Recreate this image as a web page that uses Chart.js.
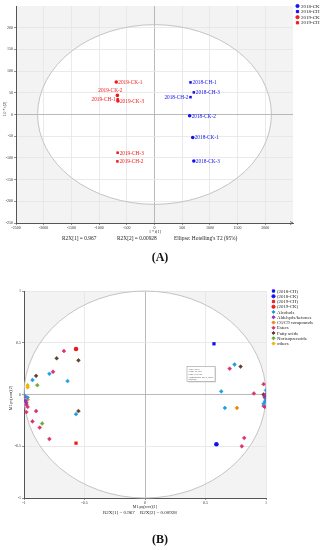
<!DOCTYPE html>
<html>
<head>
<meta charset="utf-8">
<script src="https://cdn.jsdelivr.net/npm/chart.js@4"></script>
<style>
  body { margin: 0; background: #fff; }
  canvas { position: absolute; left: 0; }
  #score-chart { top: 0; }
  #loading-chart { top: 280px; }
</style>
</head>
<body>
<canvas id="score-chart" width="323" height="280"></canvas>
<canvas id="loading-chart" width="323" height="270"></canvas>
<script>
const SERIF = "'Liberation Serif', 'DejaVu Serif', serif";

// (A) score plot
const scoreSeries = ['2018-CK', '2018-CH', '2019-CK', '2019-CH'];
const scoreNames = [
    ['2018-CK-1', '2018-CK-2', '2018-CK-3'],
    ['2018-CH-1', '2018-CH-2', '2018-CH-3'],
    ['2019-CK-1', '2019-CK-2', '2019-CK-3'],
    ['2019-CH-1', '2019-CH-2', '2019-CH-3']
];
const scoreT1 = [[690, 635, 710], [650, 650, 710], [-690, -670, -660], [-665, -670, -665]];
const scoreT2 = [[-53, -3, -107], [74, 40, 51], [75, 44, 31], [35, -108, -88]];
const scoreXTicks = [-2500, -2000, -1500, -1000, -500, 0, 500, 1000, 1500, 2000];
const scoreYTicks = [-250, -200, -150, -100, -50, 0, 50, 100, 150, 200];
const ellipseRadii = [2110, 207];

// (B) loading plot
const loadSeries = ['(2018-CH)', '(2018-CK)', '(2019-CH)', '(2019-CK)', 'Alcohols', 'Aldehyds/ketones',
    'C6/C9 compounds', 'Esters', 'Fatty acids', 'Norisoprenoids', 'others'];
const loadX = [
    [0.57],
    [0.59],
    [-0.57],
    [-0.57],
    [-0.79, -0.93, -0.64, -0.57, -0.97, -1.0, 0.74, 0.63, 0.66, 1.0, 1.0, 0.98, 0.99],
    [-0.98, -0.99, 0.99],
    [-0.97, 0.76],
    [-0.67, -0.76, -0.99, -0.98, -0.97, -0.98, -0.9, -0.93, -0.87, -0.79, 0.70, 0.98, 0.90, 1.0, 0.99, 0.99, 0.98, 0.82, 0.80, 1.0],
    [-0.73, -0.55, -0.9, -0.55, 0.79, 0.98],
    [-0.89, -0.85],
    [-0.97, -0.97]
];
const loadY = [
    [0.49],
    [-0.48],
    [-0.47],
    [0.44],
    [0.20, 0.14, 0.13, -0.19, -0.03, -0.01, 0.29, 0.03, -0.13, 0.04, -0.05, -0.09, -0.07],
    [-0.08, -0.06, -0.02],
    [-0.05, -0.13],
    [0.42, 0.22, -0.02, -0.10, -0.12, -0.17, -0.16, -0.26, -0.32, -0.43, 0.25, 0.10, 0.01, 0.0, -0.03, -0.12, -0.11, -0.42, -0.50, -0.06],
    [0.35, 0.33, 0.18, -0.16, 0.27, 0.0],
    [0.09, -0.28],
    [0.09, 0.07]
];
const loadTicks = [-1, -0.5, 0, 0.5, 1];

const BLUE = '#1010f0';
const RED = '#f01818';
const scoreColors = [BLUE, BLUE, RED, RED];
const scoreStyles = ['circle', 'rect', 'circle', 'rect'];
const loadColors = [BLUE, BLUE, RED, RED, '#1c9de6', '#9133b3', '#f08400', '#de2f72', '#5c4234', '#68ab3f', '#f0b400'];
const loadStyles = ['rect', 'circle', 'rect', 'circle', 'rectRot', 'rectRot', 'rectRot', 'rectRot', 'rectRot', 'rectRot', 'rectRot'];

function toPoints(xs, ys) {
    return xs.map((x, i) => ({ x: x, y: ys[i] }));
}

// grey outside, white inside the confidence ellipse
const ellipsePlugin = {
    id: 'ellipse',
    beforeDraw(chart, args, opts) {
        const { ctx, chartArea: a, scales: { x, y } } = chart;
        const cx = x.getPixelForValue(0), cy = y.getPixelForValue(0);
        const rx = Math.abs(x.getPixelForValue(opts.rx) - cx);
        const ry = Math.abs(y.getPixelForValue(opts.ry) - cy);
        ctx.save();
        ctx.beginPath();
        ctx.rect(a.left, a.top, a.width, a.height);
        ctx.clip();
        ctx.fillStyle = '#f3f3f3';
        ctx.fillRect(a.left, a.top, a.width, a.height);
        ctx.beginPath();
        ctx.ellipse(cx, cy, rx, ry, 0, 0, Math.PI * 2);
        ctx.fillStyle = '#ffffff';
        ctx.fill();
        ctx.restore();
    },
    beforeDatasetsDraw(chart, args, opts) {
        const { ctx, chartArea: a, scales: { x, y } } = chart;
        const cx = x.getPixelForValue(0), cy = y.getPixelForValue(0);
        const rx = Math.abs(x.getPixelForValue(opts.rx) - cx);
        const ry = Math.abs(y.getPixelForValue(opts.ry) - cy);
        ctx.save();
        ctx.beginPath();
        ctx.rect(a.left - 1, a.top - 1, a.width + 2, a.height + 2);
        ctx.clip();
        ctx.beginPath();
        ctx.ellipse(cx, cy, rx, ry, 0, 0, Math.PI * 2);
        ctx.strokeStyle = '#c4c4c4';
        ctx.lineWidth = 1;
        ctx.stroke();
        ctx.restore();
    }
};

// legend in the top right corner
const sideLegend = {
    id: 'sideLegend',
    afterDraw(chart, args, opts) {
        const ctx = chart.ctx;
        ctx.save();
        ctx.font = opts.size + 'px ' + SERIF;
        ctx.textBaseline = 'middle';
        chart.data.datasets.forEach((ds, i) => {
            const yy = opts.y + i * opts.step;
            ctx.fillStyle = ds.backgroundColor;
            ctx.strokeStyle = ds.backgroundColor;
            Chart.helpers.drawPoint(ctx, { pointStyle: ds.pointStyle, radius: opts.r, borderWidth: 0.5, rotation: 0 }, opts.x, yy);
            ctx.fillStyle = '#222';
            ctx.fillText(ds.label, opts.x + 3.5, yy + 0.3);
        });
        ctx.restore();
    }
};

// sample names beside the score points
const leftNames = ['2019-CH-1', '2018-CH-2'];
const pointNames = {
    id: 'pointNames',
    afterDatasetsDraw(chart) {
        const ctx = chart.ctx;
        ctx.save();
        ctx.font = '5.3px ' + SERIF;
        ctx.textBaseline = 'middle';
        chart.data.datasets.forEach((ds, i) => {
            chart.getDatasetMeta(i).data.forEach((el, j) => {
                const name = ds.names[j];
                ctx.fillStyle = ds.backgroundColor;
                if (leftNames.includes(name)) {
                    ctx.textAlign = 'right';
                    ctx.fillText(name, el.x - 2, el.y + 0.5);
                } else if (name === '2019-CK-2') {
                    ctx.textAlign = 'right';
                    ctx.fillText(name, el.x + 5, el.y - 5);
                } else {
                    ctx.textAlign = 'left';
                    ctx.fillText(name, el.x + 2, el.y + 0.5);
                }
            });
        });
        ctx.restore();
    }
};

// free text: axis titles, R2X values, panel letter
const notes = {
    id: 'notes',
    afterDraw(chart, args, opts) {
        const ctx = chart.ctx;
        ctx.save();
        opts.items.forEach(n => {
            ctx.save();
            ctx.font = (n.bold ? 'bold ' : '') + n.size + 'px ' + SERIF;
            ctx.fillStyle = n.color || '#222';
            ctx.textAlign = n.align || 'left';
            ctx.textBaseline = 'middle';
            ctx.translate(n.x, n.y);
            if (n.rotate) ctx.rotate(-Math.PI / 2);
            ctx.fillText(n.text, 0, 0);
            ctx.restore();
        });
        ctx.restore();
    }
};

// x axis arrow of the score plot
const axisArrow = {
    id: 'axisArrow',
    afterDraw(chart) {
        const { ctx, chartArea: a } = chart;
        ctx.save();
        ctx.strokeStyle = '#555';
        ctx.lineWidth = 0.8;
        ctx.beginPath();
        ctx.moveTo(a.right - 3, a.bottom - 1.5);
        ctx.lineTo(a.right, a.bottom);
        ctx.lineTo(a.right - 3, a.bottom + 1.5);
        ctx.stroke();
        ctx.restore();
    }
};

// tooltip box left over on the loading plot
const infoBox = {
    id: 'infoBox',
    afterDatasetsDraw(chart, args, opts) {
        const { ctx, scales: { x, y } } = chart;
        const l = x.getPixelForValue(opts.x0), r = x.getPixelForValue(opts.x1);
        const t = y.getPixelForValue(opts.y0), b = y.getPixelForValue(opts.y1);
        ctx.save();
        ctx.fillStyle = '#d8d8d8';
        ctx.fillRect(l + 1, t + 1, r - l, b - t);
        ctx.fillStyle = '#fff';
        ctx.fillRect(l, t, r - l, b - t);
        ctx.strokeStyle = '#9a9a9a';
        ctx.lineWidth = 0.6;
        ctx.strokeRect(l, t, r - l, b - t);
        ctx.fillStyle = '#444';
        ctx.font = '2.4px ' + SERIF;
        ctx.textBaseline = 'top';
        opts.lines.forEach((s, i) => ctx.fillText(s, l + 1.5, t + 1.5 + i * 2.7));
        ctx.restore();
    }
};

function linearAxis(min, max, ticks, size, hideTicks) {
    return {
        type: 'linear',
        min: min,
        max: max,
        afterBuildTicks: scale => { scale.ticks = ticks.map(v => ({ value: v })); },
        ticks: {
            font: { family: SERIF, size: size },
            color: '#333',
            padding: 1,
            autoSkip: false,
            maxRotation: 0,
            callback: v => hideTicks.includes(v) ? '' : String(v)
        },
        grid: {
            color: c => c.tick && c.tick.value === 0 ? '#a8a8a8' : '#e4e4e4',
            lineWidth: 0.8,
            tickLength: 2,
            tickColor: '#777'
        },
        border: { color: '#555', width: 1 }
    };
}

const scoreX = linearAxis(-2500, 2500, scoreXTicks, 4, []);
scoreX.afterFit = s => { s.height = 22; };
const scoreY = linearAxis(-250, 250, scoreYTicks, 4, []);
scoreY.afterFit = s => { s.width = 16; };

new Chart(document.getElementById('score-chart'), {
    type: 'scatter',
    data: {
        datasets: scoreSeries.map((label, i) => ({
            label: label,
            names: scoreNames[i],
            data: toPoints(scoreT1[i], scoreT2[i]),
            backgroundColor: scoreColors[i],
            borderColor: scoreColors[i],
            pointStyle: scoreStyles[i],
            pointRadius: 1.8,
            borderWidth: 0
        }))
    },
    options: {
        responsive: false,
        devicePixelRatio: 1,
        animation: false,
        layout: { padding: { left: 0, right: 30, top: 6, bottom: 35 } },
        scales: { x: scoreX, y: scoreY },
        plugins: {
            legend: { display: false },
            tooltip: { enabled: false },
            ellipse: { rx: ellipseRadii[0], ry: ellipseRadii[1] },
            sideLegend: { x: 297.5, y: 6, step: 5.6, size: 5, r: 1.6 },
            notes: {
                items: [
                    { text: '1 * t[1]', x: 155, y: 232, size: 4, align: 'center' },
                    { text: '1.0 * t[2]', x: 5, y: 109, size: 4, align: 'center', rotate: true },
                    { text: 'R2X[1] = 0.967', x: 62, y: 238.5, size: 5.4 },
                    { text: 'R2X[2] = 0.00928', x: 117, y: 238.5, size: 5.4 },
                    { text: 'Ellipse: Hotelling\'s T2 (95%)', x: 174, y: 238.5, size: 5.4 },
                    { text: '(A)', x: 160, y: 258, size: 12, bold: true, align: 'center', color: '#111' }
                ]
            }
        }
    },
    plugins: [ellipsePlugin, pointNames, sideLegend, notes, axisArrow]
});

const loadXAxis = linearAxis(-1, 1, loadTicks, 4, []);
loadXAxis.afterFit = s => { s.height = 22; };
const loadYAxis = linearAxis(-1, 1, loadTicks, 4, []);
loadYAxis.afterFit = s => { s.width = 24; };

new Chart(document.getElementById('loading-chart'), {
    type: 'scatter',
    data: {
        datasets: loadSeries.map((label, i) => ({
            label: label,
            data: toPoints(loadX[i], loadY[i]),
            backgroundColor: loadColors[i],
            borderColor: loadColors[i],
            pointStyle: loadStyles[i],
            pointRadius: i < 4 ? 2.3 : 1.9,
            borderWidth: i < 4 ? 0 : 0.6
        }))
    },
    options: {
        responsive: false,
        devicePixelRatio: 1,
        animation: false,
        layout: { padding: { left: 0, right: 57, top: 11, bottom: 30 } },
        scales: { x: loadXAxis, y: loadYAxis },
        plugins: {
            legend: { display: false },
            tooltip: { enabled: false },
            ellipse: { rx: 1, ry: 1 },
            sideLegend: { x: 273.5, y: 11, step: 5.25, size: 4.8, r: 1.6 },
            infoBox: {
                x0: 0.347, x1: 0.579, y0: 0.272, y1: 0.126,
                lines: ['Type: M1.0', 'Num: 38 Vsp', 'Item: 0.37188', 'Components: M1.0, M0.0', 'pq(corr)']
            },
            notes: {
                items: [
                    { text: 'M1.pq(corr)[1]', x: 145, y: 226.5, size: 4, align: 'center' },
                    { text: 'M1.pq(corr)[2]', x: 11, y: 118, size: 4, align: 'center', rotate: true },
                    { text: 'R2X[1] = 0.967', x: 103, y: 232.5, size: 5 },
                    { text: 'R2X[2] = 0.00928', x: 140, y: 232.5, size: 5 },
                    { text: '(B)', x: 160, y: 260, size: 12, bold: true, align: 'center', color: '#111' }
                ]
            }
        }
    },
    plugins: [ellipsePlugin, infoBox, sideLegend, notes]
});
</script>
</body>
</html>
